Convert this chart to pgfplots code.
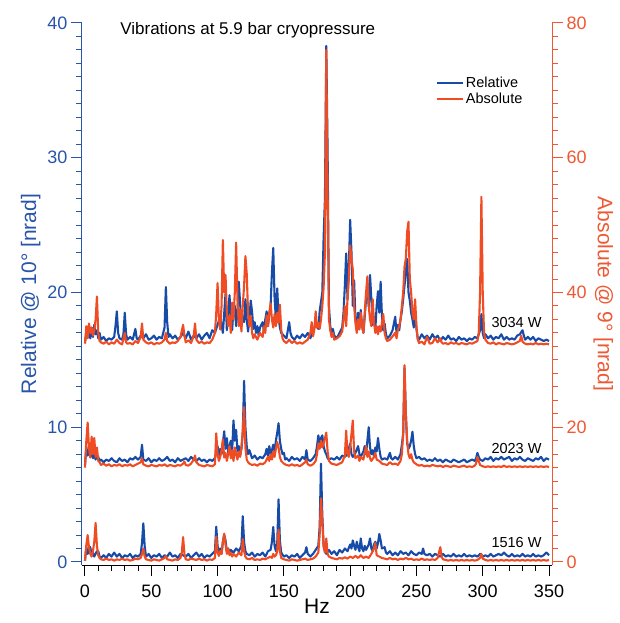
\documentclass[border=0pt]{standalone}
\usepackage{fontspec}
\setmainfont{Liberation Sans}
\usepackage{pgfplots}
\pgfplotsset{compat=1.18}

\definecolor{relblue}{RGB}{22,76,168}
\definecolor{absorange}{RGB}{240,76,36}
\definecolor{axblue}{RGB}{40,84,170}
\definecolor{axorange}{RGB}{238,88,50}

\pgfplotsset{
  base/.style={
    width=470pt, height=542pt, scale only axis,
    xmin=-2.26, xmax=352.26,
    tick align=outside,
    major tick length=11pt, minor tick length=6pt,
    /pgf/number format/assume math mode=true,
    tick label style={font=\fontsize{18}{20}\selectfont},
    label style={font=\fontsize{21}{24}\selectfont},
    every axis plot/.append style={line width=2.1pt, line join=round},
  },
  rel/.style={relblue},
  abs/.style={absorange},
}

\begin{document}
\begin{tikzpicture}
%% ---------------- Relative (left axis) ----------------
\begin{axis}[base,
  axis x line*=bottom, axis y line*=left,
  ymin=-0.223, ymax=40,
  xtick={0,50,...,350}, minor xtick={0,10,...,350},
  ytick={0,10,...,40}, minor ytick={0,1,...,40},
  x axis line style={black, line width=1pt},
  xtick style={black, line width=1pt},
  y axis line style={axblue, line width=1pt},
  ytick style={axblue, line width=1pt},
  yticklabel style={axblue},
  xticklabel style={yshift=-5pt},
  xlabel={Hz},
  xlabel style={yshift=5pt},
  ylabel={Relative @ 10° [nrad]},
  ylabel style={axblue},
]
\coordinate (sw) at (rel axis cs:0,0);

% 3034 W
\addplot[rel] coordinates {
(0,16.3)(1,17.0)(2,16.8)(3,17.3)(4,16.6)(5,17.4)(6,16.7)(7,17.6)(8,16.9)(9,17.2)
(10,16.6)(11,17.0)(12,16.5)(14,16.7)(16,16.4)(18,16.6)(20,16.5)(22,16.7)(23,17.5)(24,18.6)
(25,17.0)(26,16.6)(28,16.5)(29,16.9)(30,18.5)(31,16.9)(32,16.5)(34,16.7)(36,16.5)(38,17.3)
(39,16.6)(40,16.5)(42,16.8)(44,16.6)(46,16.9)(48,16.5)(50,16.6)(52,16.8)(54,16.5)(56,16.7)
(58,16.6)(60,17.4)(61,20.4)(62,17.8)(63,16.7)(64,16.9)(66,16.6)(68,16.8)(70,16.5)(72,16.7)
(74,17.0)(76,16.6)(78,17.1)(80,16.5)(82,16.8)(84,16.6)(86,16.9)(88,16.5)(90,16.8)(92,17.0)
(94,16.6)(96,17.2)(98,17.0)(100,17.6)(102,18.2)(104,17.0)(106,19.9)(107,17.2)(108,18.4)(109,19.8)
(110,18.1)(111,17.2)(112,18.8)(113,19.0)(114,17.5)(115,18.6)(116,20.8)(117,19.2)(118,17.6)(119,18.2)
(120,17.8)(121,19.5)(122,18.0)(123,17.1)(124,18.0)(125,19.4)(126,18.6)(127,17.3)(128,17.8)(129,17.0)
(130,17.5)(131,16.8)(132,17.4)(134,17.8)(135,17.1)(136,18.0)(137,18.6)(138,17.5)(139,18.3)(140,19.0)
(141,21.5)(142,23.3)(143,19.6)(144,18.0)(145,20.3)(146,18.2)(147,17.4)(148,17.0)(150,16.8)(152,16.6)
(154,17.8)(155,17.0)(156,16.7)(158,16.5)(160,16.8)(162,16.6)(164,16.9)(166,16.7)(168,17.0)(170,16.6)
(172,17.2)(174,17.6)(176,17.3)(177,18.6)(178,19.3)(179,20.0)(180,24.1)(181,27.0)(182,38.3)(183,30.5)
(184,19.0)(185,17.5)(186,17.0)(187,17.3)(188,16.8)(190,16.6)(192,17.0)(194,17.4)(195,18.5)(196,20.5)
(197,22.9)(198,19.5)(199,21.8)(200,25.4)(201,23.0)(202,19.0)(203,20.9)(204,18.0)(205,17.2)(206,18.5)
(207,17.4)(208,18.7)(209,17.5)(210,17.0)(211,18.2)(212,19.5)(213,20.4)(214,19.0)(215,21.3)(216,19.5)
(217,17.6)(218,18.2)(219,17.3)(220,19.0)(221,20.1)(222,18.5)(223,20.8)(224,18.2)(225,17.2)(226,17.7)
(227,16.9)(228,16.6)(230,16.8)(232,17.2)(234,18.2)(235,17.0)(236,17.6)(237,17.2)(238,18.0)(239,18.6)
(240,19.5)(241,20.5)(242,21.5)(243,22.5)(244,20.0)(245,19.4)(246,18.5)(247,18.0)(248,17.4)(249,18.7)
(250,17.3)(251,16.6)(252,16.5)(254,16.9)(256,16.6)(258,16.8)(260,16.5)(262,16.9)(264,16.6)(266,16.8)
(268,16.4)(270,16.7)(272,16.5)(274,16.8)(276,16.5)(278,16.6)(280,16.4)(282,16.7)(284,16.5)(286,16.6)
(288,16.4)(290,16.6)(292,16.5)(294,16.7)(296,16.6)(298,17.2)(299,18.4)(300,17.0)(301,16.6)(302,16.9)
(304,16.6)(306,16.8)(308,16.5)(310,16.7)(312,16.6)(314,16.9)(316,16.5)(318,16.7)(320,16.5)(322,16.6)
(324,16.5)(326,16.8)(328,16.9)(330,17.2)(331,16.8)(332,16.5)(334,16.7)(336,16.5)(338,16.7)(340,16.4)
(342,16.6)(344,16.5)(346,16.4)(348,16.5)(350,16.4)
};

% 2023 W
\addplot[rel] coordinates {
(0,7.2)(1,8.55)(2,7.9)(3,8.3)(4,7.8)(5,8.2)(6,7.7)(7,8.0)(8,7.6)(9,7.9)
(10,7.8)(11,7.5)(12,7.6)(14,7.4)(16,7.6)(18,7.5)(20,7.7)(22,7.5)(24,7.4)(26,7.7)
(28,7.5)(30,7.6)(32,7.4)(34,7.7)(36,7.6)(38,7.8)(40,7.6)(42,7.8)(43,8.7)(44,7.6)
(46,7.5)(48,7.7)(50,7.4)(52,7.6)(54,7.5)(56,7.7)(58,7.5)(60,7.6)(62,7.8)(64,7.5)
(66,7.6)(68,7.4)(70,7.7)(72,7.5)(74,7.6)(76,7.7)(78,7.5)(80,7.8)(82,7.6)(84,7.5)
(86,7.7)(88,7.5)(90,7.6)(92,7.4)(94,7.6)(96,7.5)(98,7.7)(99,8.2)(100,8.6)(101,7.9)
(102,8.4)(103,8.0)(104,8.8)(105,9.7)(106,8.4)(107,9.2)(108,8.1)(109,8.6)(110,9.0)(111,8.2)
(112,10.5)(113,9.0)(114,9.8)(115,8.2)(116,8.6)(117,7.9)(118,8.4)(119,9.5)(120,13.45)(121,10.0)
(122,8.6)(123,8.0)(124,8.3)(126,7.7)(128,7.9)(130,7.6)(132,7.8)(134,7.7)(136,8.0)(137,8.4)
(138,7.9)(139,8.6)(140,8.0)(141,8.3)(142,8.7)(143,8.2)(144,9.0)(145,9.6)(146,10.3)(147,9.0)
(148,8.4)(149,8.0)(150,8.1)(151,7.6)(152,7.7)(154,7.5)(156,7.8)(158,7.6)(160,7.7)(162,7.5)
(164,7.8)(166,7.6)(167,8.3)(168,7.6)(170,7.5)(172,7.7)(174,8.0)(175,8.6)(176,9.4)(177,8.8)
(178,9.2)(179,9.4)(180,8.6)(181,8.2)(182,8.0)(183,7.7)(184,7.6)(186,7.7)(188,7.6)(190,7.8)
(192,7.6)(194,7.9)(196,7.8)(198,8.0)(199,8.4)(200,8.8)(201,8.0)(202,7.8)(204,8.1)(206,8.6)
(207,8.0)(208,7.8)(210,8.2)(211,8.6)(212,8.0)(213,9.0)(214,10.0)(215,8.5)(216,8.0)(217,8.3)
(218,7.8)(219,8.5)(220,8.2)(221,9.2)(222,8.4)(223,7.8)(224,7.6)(226,7.7)(228,7.6)(230,8.1)
(231,7.7)(232,7.6)(234,7.8)(236,7.6)(238,8.0)(239,8.7)(240,9.5)(241,14.4)(242,11.0)(243,8.8)
(244,8.4)(245,8.6)(246,9.0)(247,9.67)(248,8.6)(249,8.0)(250,7.7)(252,7.8)(254,7.6)(256,7.7)
(258,7.5)(260,7.6)(262,7.5)(264,7.7)(266,7.5)(268,7.6)(270,7.4)(272,7.6)(274,7.5)(276,7.4)
(278,7.6)(280,7.5)(282,7.4)(284,7.5)(286,7.6)(288,7.4)(290,7.5)(292,7.6)(294,7.5)(295,7.7)
(296,8.1)(297,7.8)(298,7.6)(300,7.5)(302,7.7)(304,7.6)(306,7.8)(308,7.5)(310,7.7)(312,7.6)
(314,7.8)(316,7.6)(318,7.7)(320,7.8)(322,7.5)(324,7.7)(326,7.6)(328,7.8)(330,7.6)(332,7.5)
(334,7.7)(336,7.6)(338,7.5)(340,7.7)(342,7.6)(344,7.8)(346,7.5)(348,7.7)(350,7.6)
};

% 1516 W
\addplot[rel] coordinates {
(0,0.1)(1,1.13)(2,0.6)(3,0.9)(4,1.1)(5,0.5)(6,0.7)(7,0.4)(8,0.6)(9,0.8)
(10,0.8)(11,0.4)(12,0.3)(14,0.5)(16,0.3)(18,0.6)(20,0.4)(22,0.7)(24,0.4)(26,0.6)
(28,0.3)(30,0.5)(32,0.4)(34,0.6)(36,0.3)(38,0.5)(40,0.4)(42,0.6)(43,1.4)(44,2.87)
(45,1.2)(46,0.4)(48,0.6)(50,0.3)(52,0.5)(54,0.4)(56,0.6)(58,0.3)(60,0.5)(62,0.4)
(64,0.7)(66,0.4)(68,0.5)(70,0.3)(72,0.6)(74,0.5)(76,0.4)(78,0.6)(80,0.3)(82,0.5)
(84,0.7)(86,0.4)(88,0.6)(90,0.3)(92,0.5)(94,0.4)(96,0.6)(98,0.8)(99,2.62)(100,1.2)
(101,0.7)(102,1.0)(103,0.6)(104,1.5)(105,2.0)(106,1.6)(107,0.8)(108,1.0)(109,0.6)(110,0.9)
(112,0.7)(114,1.0)(116,0.8)(118,1.2)(119,3.4)(120,1.5)(121,0.8)(122,0.6)(124,0.5)(126,0.7)
(128,0.4)(130,0.6)(132,0.5)(134,0.7)(136,0.4)(138,0.8)(140,0.9)(141,1.5)(142,2.6)(143,1.2)
(144,0.8)(145,1.4)(146,4.65)(147,1.6)(148,0.7)(150,0.4)(152,0.5)(154,0.3)(156,0.5)(158,0.4)
(160,0.6)(162,0.3)(164,0.5)(166,0.7)(167,1.1)(168,0.6)(170,0.4)(172,0.6)(174,0.9)(176,1.2)
(177,2.6)(178,7.3)(179,3.5)(180,1.2)(181,0.8)(182,0.6)(184,0.9)(186,0.6)(188,0.8)(190,0.5)
(192,0.9)(194,0.7)(196,1.0)(198,0.8)(200,1.3)(201,1.0)(202,1.6)(203,1.2)(204,0.9)(205,1.5)
(206,1.1)(207,0.8)(208,1.75)(209,1.0)(210,0.8)(211,1.2)(212,0.9)(214,1.3)(215,1.75)(216,1.0)
(217,0.8)(218,1.3)(219,1.5)(220,1.0)(221,1.4)(222,2.08)(223,1.6)(224,1.0)(226,1.1)(227,0.7)
(228,0.6)(230,0.8)(232,0.5)(234,0.7)(236,0.5)(238,0.8)(240,0.6)(242,0.7)(244,0.5)(246,0.8)
(248,0.6)(250,0.5)(252,0.7)(254,0.6)(255,1.0)(256,0.6)(258,0.5)(260,0.6)(262,0.4)(264,0.6)
(266,0.5)(268,0.4)(270,0.6)(272,0.4)(274,0.5)(276,0.4)(278,0.6)(280,0.4)(282,0.5)(284,0.4)
(286,0.6)(288,0.4)(290,0.5)(292,0.4)(294,0.5)(296,0.4)(298,0.6)(300,0.4)(302,0.5)(304,0.4)
(306,0.6)(308,0.4)(310,0.5)(312,0.6)(314,0.5)(316,0.7)(318,0.5)(320,0.4)(322,0.6)(324,0.4)
(326,0.5)(328,0.4)(330,0.6)(332,0.4)(334,0.5)(336,0.4)(338,0.6)(340,0.4)(342,0.5)(344,0.4)
(346,0.5)(348,0.7)(350,0.5)
};

\node[anchor=west, font=\fontsize{17}{20}\selectfont] at (axis cs:24,39.45)
  {Vibrations at 5.9 bar cryopressure};
\end{axis}

%% ---------------- Absolute (right axis) ----------------
\begin{axis}[base,
  axis x line=none, axis y line*=right,
  ymin=-0.446, ymax=80,
  ytick={0,20,...,80}, minor ytick={0,2,...,80},
  y axis line style={axorange, line width=1pt},
  ytick style={axorange, line width=1pt},
  yticklabel style={axorange},
  ylabel={Absolute @ 9° [nrad]},
  ylabel style={axorange, rotate=180},
  legend style={at={(axis cs:264.7,72.3)}, anchor=north west, draw=none, fill=none,
    font=\fontsize{14.5}{16}\selectfont, inner sep=0pt, row sep=0pt},
  legend cell align=left,
  legend image code/.code={\draw[#1, line width=1.8pt] (0pt,0pt) -- (26pt,0pt);},
]
\addlegendimage{rel}
\addlegendentry{Relative}

% 3034 W
\addplot[abs] coordinates {
(0,32.4)(1,35.0)(2,33.2)(3,35.4)(4,34.0)(5,34.8)(6,33.6)(7,34.4)(8,36.0)(9,39.4)
(10,34.0)(11,32.8)(12,32.6)(14,32.4)(16,32.7)(18,32.3)(20,32.6)(22,32.4)(24,33.0)(26,32.5)
(28,32.3)(30,34.0)(31,32.6)(32,32.4)(34,32.5)(36,32.3)(38,32.8)(40,32.5)(42,33.4)(43,35.4)
(44,33.0)(46,32.6)(48,32.4)(50,32.6)(52,32.3)(54,32.5)(56,32.4)(58,32.6)(60,33.0)(61,34.0)
(62,32.8)(64,32.4)(66,32.6)(68,32.5)(70,32.8)(72,33.4)(74,35.2)(75,33.6)(76,32.6)(78,32.9)
(80,32.5)(82,33.6)(83,35.4)(84,33.0)(86,32.5)(88,32.7)(90,32.4)(92,32.6)(94,32.5)(96,33.0)
(98,34.0)(99,37.0)(100,41.4)(101,36.0)(102,34.5)(103,38.0)(104,47.8)(105,40.0)(106,42.6)(107,37.0)
(108,35.0)(109,36.5)(110,34.0)(111,38.5)(112,36.0)(113,40.0)(114,47.4)(115,39.0)(116,35.0)(117,37.5)
(118,34.2)(119,38.0)(120,41.0)(121,45.4)(122,42.8)(123,37.0)(124,35.0)(125,36.5)(126,34.0)(127,33.2)
(128,33.8)(130,33.0)(132,34.0)(134,33.4)(135,35.0)(136,34.0)(137,36.6)(138,35.0)(139,37.0)(140,38.4)
(141,36.0)(142,34.8)(143,36.8)(144,35.0)(145,37.0)(146,35.5)(147,38.2)(148,34.5)(149,33.2)(150,32.8)
(152,32.5)(154,33.0)(156,32.5)(158,32.8)(160,32.4)(162,32.6)(164,32.4)(166,32.7)(168,33.0)(170,34.0)
(171,35.6)(172,33.5)(173,34.5)(174,37.2)(175,34.8)(176,35.5)(177,34.6)(178,36.0)(179,38.0)(180,40.8)
(181,46.0)(182,76.0)(183,55.0)(184,36.0)(185,34.4)(186,33.4)(187,34.0)(188,33.0)(190,33.2)(192,33.5)
(194,34.2)(195,36.0)(196,38.0)(197,35.0)(198,39.0)(199,42.0)(200,47.0)(201,45.0)(202,43.4)(203,38.0)
(204,35.5)(205,34.0)(206,36.0)(207,34.5)(208,37.0)(209,35.0)(210,34.0)(211,37.0)(212,40.0)(213,42.4)
(214,38.0)(215,36.0)(216,35.0)(217,39.0)(218,35.5)(219,34.0)(220,35.0)(221,33.8)(222,35.0)(223,34.2)
(224,35.5)(225,36.8)(226,34.0)(227,33.2)(228,32.8)(230,33.0)(232,33.5)(234,34.0)(235,33.2)(236,34.5)
(237,35.0)(238,36.0)(239,38.0)(240,40.0)(241,43.8)(242,45.0)(243,49.0)(244,50.5)(245,42.0)(246,40.0)
(247,37.0)(248,36.0)(249,39.0)(250,35.0)(251,33.0)(252,32.5)(254,32.7)(256,32.3)(258,33.4)(260,32.4)
(262,32.5)(264,33.2)(266,32.6)(268,33.2)(269,32.6)(270,32.4)(272,32.5)(274,32.3)(276,32.6)(278,32.4)
(280,32.5)(282,32.3)(284,32.5)(286,32.4)(288,32.3)(290,32.5)(292,32.4)(294,32.6)(296,32.8)(297,34.0)
(298,40.0)(299,54.2)(300,40.0)(301,34.0)(302,33.0)(304,32.5)(306,32.4)(308,32.6)(310,32.3)(312,32.5)
(314,32.4)(316,32.3)(318,32.5)(320,32.4)(322,32.3)(324,32.4)(326,32.6)(328,32.8)(329,33.6)(330,32.7)
(332,32.4)(334,32.3)(336,32.4)(338,32.3)(340,32.5)(342,32.3)(344,32.4)(346,32.3)(348,32.4)(350,32.3)
};
\addlegendentry{Absolute}

% 2023 W
\addplot[abs, forget plot] coordinates {
(0,14.0)(1,18.0)(2,20.7)(3,17.0)(4,15.5)(5,18.6)(6,16.0)(7,18.4)(8,15.6)(9,17.0)
(10,15.0)(11,14.8)(12,14.4)(14,14.6)(16,14.3)(18,14.5)(20,14.2)(22,14.4)(24,14.3)(26,14.5)
(28,14.2)(30,14.4)(32,14.3)(34,14.5)(36,14.2)(38,14.4)(40,14.6)(42,14.8)(43,15.4)(44,14.5)
(46,14.3)(48,14.2)(50,14.4)(52,14.3)(54,14.2)(56,14.4)(58,14.3)(60,14.5)(62,14.2)(64,14.4)
(66,14.3)(68,14.2)(70,14.4)(72,14.3)(74,14.6)(75,14.9)(76,14.4)(78,14.3)(80,14.6)(82,15.2)
(83,15.8)(84,14.8)(86,14.4)(88,14.3)(90,14.2)(92,14.4)(94,14.3)(96,14.2)(98,14.5)(99,19.1)
(100,16.0)(101,15.0)(102,15.6)(103,16.6)(104,18.2)(105,15.5)(106,16.2)(107,15.0)(108,16.0)(109,17.2)
(110,15.4)(111,16.6)(112,15.0)(113,17.0)(114,16.0)(115,15.2)(116,16.4)(117,15.6)(118,17.0)(119,19.6)
(120,23.0)(121,17.0)(122,15.2)(123,14.8)(124,14.6)(126,14.4)(128,14.5)(130,14.3)(132,14.6)(134,14.5)
(136,14.8)(138,15.6)(139,15.0)(140,16.0)(141,15.2)(142,16.4)(143,15.6)(144,16.8)(145,17.8)(146,17.0)
(147,15.6)(148,15.0)(150,14.6)(152,14.4)(154,14.3)(156,14.5)(158,14.3)(160,14.4)(162,14.2)(164,14.5)
(166,14.8)(167,15.2)(168,14.5)(170,14.3)(172,14.5)(174,15.0)(175,16.0)(176,17.6)(177,16.8)(178,18.0)
(179,17.0)(180,17.6)(181,18.4)(182,19.2)(183,16.4)(184,15.0)(186,14.6)(188,14.5)(190,14.4)(192,14.6)
(194,14.8)(196,15.8)(197,19.5)(198,16.0)(199,15.6)(200,17.0)(201,19.0)(202,21.0)(203,16.4)(204,15.4)
(206,15.8)(207,15.0)(208,15.6)(210,15.2)(211,16.2)(212,17.2)(213,15.6)(214,16.4)(215,15.4)(216,15.0)
(218,15.6)(219,16.2)(220,15.2)(222,15.0)(224,14.6)(226,14.5)(228,14.4)(230,14.8)(232,14.5)(234,14.6)
(236,14.4)(238,15.0)(239,16.0)(240,19.0)(241,29.2)(242,22.0)(243,18.0)(244,16.0)(245,15.4)(246,16.0)
(247,15.2)(248,14.8)(250,14.5)(252,14.3)(254,14.4)(256,14.2)(258,14.3)(260,14.2)(262,14.4)(264,14.3)
(266,14.2)(268,14.3)(270,14.1)(272,14.3)(274,14.2)(276,14.1)(278,14.3)(280,14.2)(282,14.1)(284,14.2)
(286,14.3)(288,14.1)(290,14.2)(292,14.1)(294,14.3)(295,14.6)(296,15.6)(297,15.0)(298,14.4)(300,14.2)
(302,14.1)(304,14.2)(306,14.1)(308,14.2)(310,14.1)(312,14.2)(314,14.1)(316,14.3)(318,14.1)(320,14.2)
(322,14.1)(324,14.2)(326,14.1)(328,14.2)(330,14.1)(332,14.2)(334,14.1)(336,14.2)(338,14.1)(340,14.2)
(342,14.1)(344,14.2)(346,14.1)(348,14.2)(350,14.1)
};

% 1516 W
\addplot[abs, forget plot] coordinates {
(0,0.2)(1,2.5)(2,4.0)(3,2.2)(4,1.2)(5,0.8)(6,1.6)(7,3.0)(8,5.8)(9,2.4)
(10,1.0)(11,0.6)(12,0.4)(14,0.3)(16,0.5)(18,0.3)(20,0.4)(22,0.2)(24,0.4)(26,0.3)
(28,0.5)(30,0.3)(32,0.4)(34,0.2)(36,0.3)(38,0.5)(40,0.4)(42,0.6)(43,1.2)(44,2.0)
(45,0.8)(46,0.4)(48,0.3)(50,0.2)(52,0.4)(54,0.3)(56,0.2)(58,0.4)(60,0.6)(61,0.9)
(62,0.4)(64,0.3)(66,0.2)(68,0.4)(70,0.3)(72,0.6)(73,1.4)(74,3.7)(75,1.2)(76,0.4)
(78,0.3)(80,0.5)(82,0.4)(84,0.3)(86,0.5)(88,0.3)(90,0.4)(92,0.2)(94,0.4)(96,0.3)
(98,0.6)(99,3.8)(100,1.4)(101,0.9)(102,1.6)(103,1.2)(104,3.0)(105,4.2)(106,2.6)(107,1.2)
(108,2.0)(109,1.0)(110,1.4)(111,0.8)(112,1.2)(114,0.8)(116,1.4)(118,1.0)(119,3.4)(120,1.6)
(121,0.8)(122,0.5)(124,0.4)(126,0.6)(128,0.3)(130,0.4)(132,0.3)(134,0.5)(136,0.4)(138,0.6)
(140,0.8)(141,0.6)(142,1.2)(143,0.8)(144,1.0)(145,1.6)(146,4.8)(147,1.6)(148,0.6)(150,0.4)
(152,0.3)(154,0.2)(156,0.4)(158,0.3)(160,0.2)(162,0.3)(164,0.4)(166,0.5)(168,0.3)(170,0.4)
(172,0.5)(174,0.8)(176,1.4)(177,4.0)(178,9.45)(179,6.0)(180,2.2)(181,1.4)(182,3.5)(183,1.2)
(184,0.8)(186,0.6)(188,0.5)(190,0.4)(192,0.6)(194,0.5)(196,0.7)(198,0.5)(200,0.8)(202,0.6)
(204,0.9)(206,0.6)(208,1.0)(210,0.6)(212,0.8)(214,0.6)(216,1.2)(218,2.0)(219,2.8)(220,1.0)
(222,0.8)(224,0.6)(226,0.5)(228,0.4)(230,0.6)(232,0.4)(234,0.5)(236,0.3)(238,0.5)(240,0.4)
(242,0.6)(244,0.4)(246,0.5)(248,0.3)(250,0.4)(252,0.3)(254,0.5)(256,0.3)(258,0.4)(260,0.3)
(262,0.4)(264,0.3)(266,0.6)(267,1.4)(268,2.2)(269,0.8)(270,0.4)(272,0.3)(274,0.2)(276,0.3)
(278,0.2)(280,0.3)(282,0.2)(284,0.3)(286,0.2)(288,0.3)(290,0.2)(292,0.3)(294,0.2)(296,0.3)
(298,0.6)(299,1.2)(300,0.5)(302,0.3)(304,0.2)(306,0.3)(308,0.2)(310,0.3)(312,0.2)(314,0.3)
(316,0.2)(318,0.3)(320,0.2)(322,0.3)(324,0.2)(326,0.3)(328,0.2)(330,0.3)(332,0.2)(334,0.3)
(336,0.2)(338,0.3)(340,0.2)(342,0.3)(344,0.2)(346,0.3)(348,0.2)(350,0.3)
};

\node[anchor=east, font=\fontsize{14.5}{16}\selectfont] at (axis cs:347,35.6) {3034 W};
\node[anchor=east, font=\fontsize{14.5}{16}\selectfont] at (axis cs:347,16.9) {2023 W};
\node[anchor=east, font=\fontsize{14.5}{16}\selectfont] at (axis cs:347,2.96) {1516 W};
\end{axis}

\pgfresetboundingbox
\path (sw) ++(-82pt,-58pt) rectangle ++(619pt,623pt);
\end{tikzpicture}
\end{document}
